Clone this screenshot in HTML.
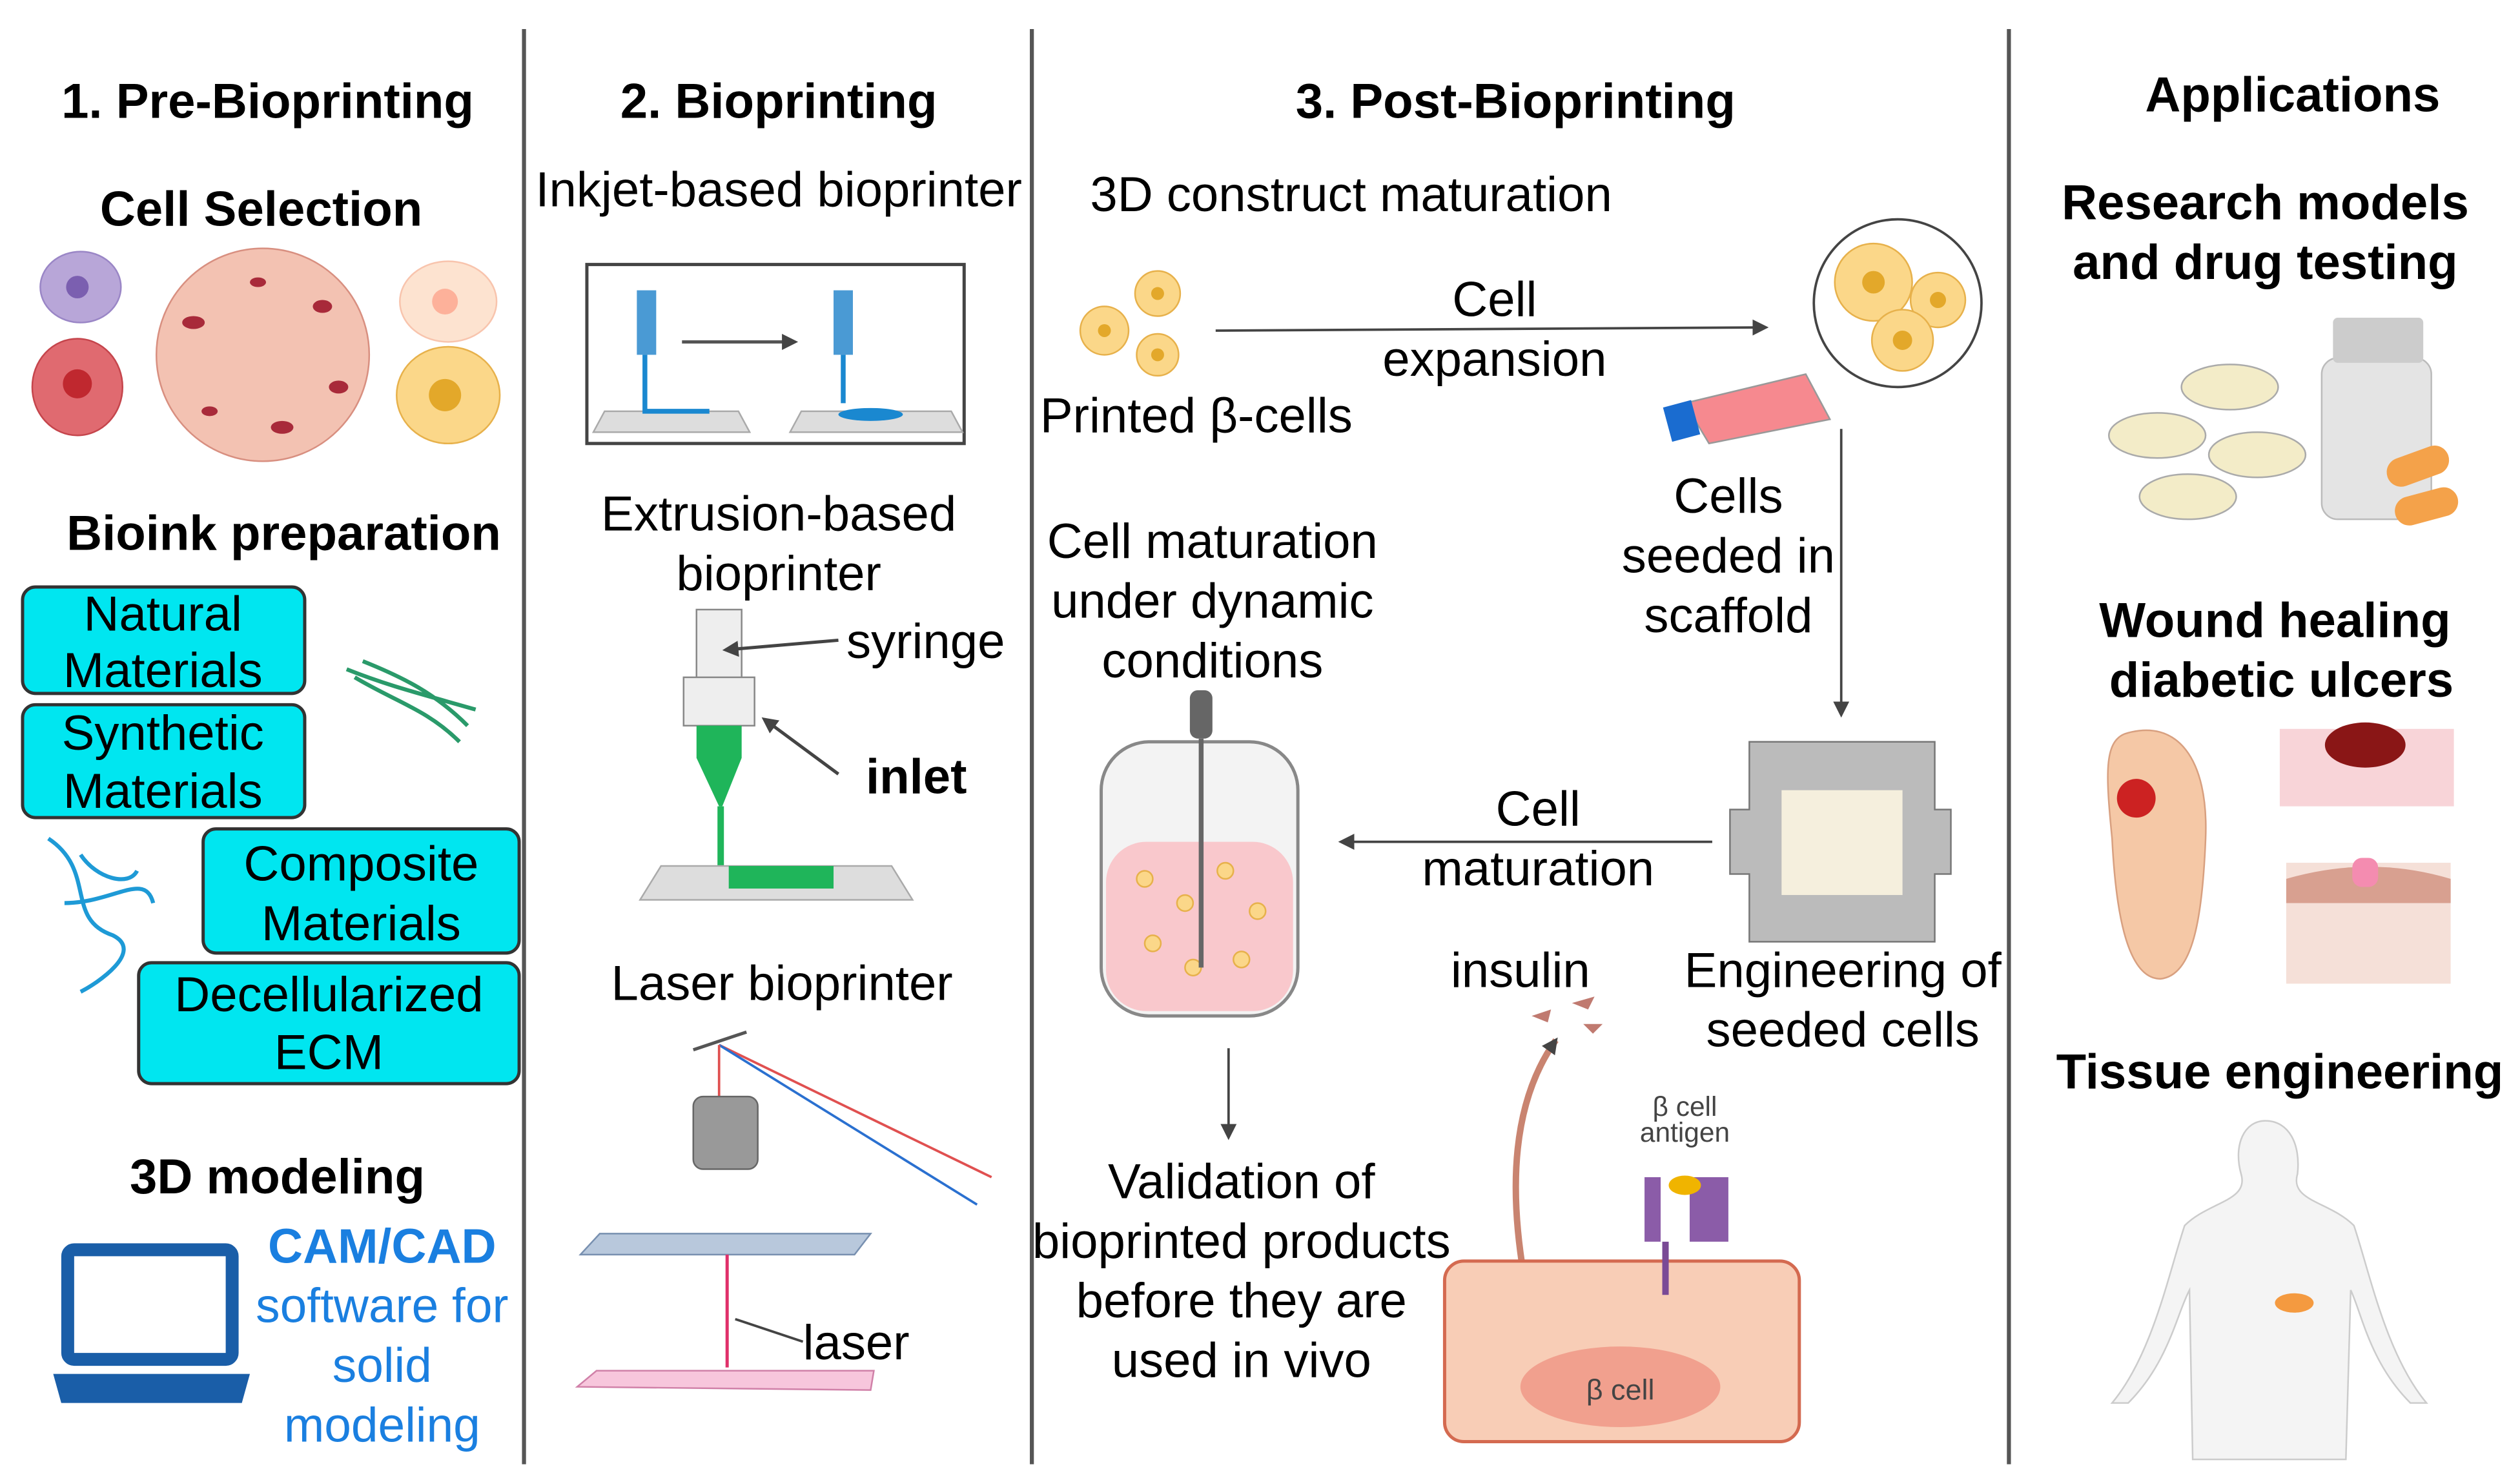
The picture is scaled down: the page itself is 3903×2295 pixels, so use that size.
<!DOCTYPE html>
<html><head><meta charset="utf-8"><style>
html,body{margin:0;padding:0;background:#fff;}
svg{display:block;}
text{font-family:"Liberation Sans",Arial,sans-serif;fill:#000;}
.t{font-weight:bold;font-size:30.5px;}
.n{font-size:30.5px;}
</style></head><body>
<svg width="3903" height="2295" viewBox="0 0 1563 919" xmlns="http://www.w3.org/2000/svg">
<defs><marker id="ar" markerWidth="10" markerHeight="10" refX="8" refY="5" orient="auto" markerUnits="userSpaceOnUse"><path d="M0,0 L10,5 L0,10z" fill="#444"/></marker></defs>
<g stroke="#555" stroke-width="2.5"><line x1="325" y1="18" x2="325" y2="908"/><line x1="640" y1="18" x2="640" y2="908"/><line x1="1246" y1="18" x2="1246" y2="908"/></g>
<!-- Column 1 -->
<text class="t" x="166" y="73" text-anchor="middle">1. Pre-Bioprinting</text>
<text class="t" x="162" y="140" text-anchor="middle">Cell Selection</text>
<ellipse cx="50" cy="178" rx="25" ry="22" fill="#b8a6d8" stroke="#9a86c6"/><circle cx="48" cy="178" r="7" fill="#7b5fb0"/>
<ellipse cx="48" cy="240" rx="28" ry="30" fill="#e06a70" stroke="#c5454c"/><circle cx="48" cy="238" r="9" fill="#c0282f"/>
<circle cx="163" cy="220" r="66" fill="#f3c2b2" stroke="#d88f80"/>
<g fill="#a82a3a"><ellipse cx="120" cy="200" rx="7" ry="4"/><ellipse cx="200" cy="190" rx="6" ry="4"/><ellipse cx="175" cy="265" rx="7" ry="4"/><ellipse cx="130" cy="255" rx="5" ry="3"/><ellipse cx="210" cy="240" rx="6" ry="4"/><ellipse cx="160" cy="175" rx="5" ry="3"/></g>
<ellipse cx="278" cy="187" rx="30" ry="25" fill="#fde3d0" stroke="#f8c4ad"/><circle cx="276" cy="187" r="8" fill="#fdb19a"/>
<ellipse cx="278" cy="245" rx="32" ry="30" fill="#fbd789" stroke="#e7b14b"/><circle cx="276" cy="245" r="10" fill="#e3a82a"/>
<text class="t" x="176" y="341" text-anchor="middle">Bioink preparation</text>
<g fill="#00e6f0" stroke="#333" stroke-width="2">
<rect x="14" y="364" width="175" height="66" rx="8"/>
<rect x="14" y="437" width="175" height="70" rx="8"/>
<rect x="126" y="514" width="196" height="77" rx="8"/>
<rect x="86" y="597" width="236" height="75" rx="8"/>
</g>
<text class="n" x="101" y="391" text-anchor="middle">Natural</text><text class="n" x="101" y="426" text-anchor="middle">Materials</text>
<text class="n" x="101" y="465" text-anchor="middle">Synthetic</text><text class="n" x="101" y="501" text-anchor="middle">Materials</text>
<text class="n" x="224" y="546" text-anchor="middle">Composite</text><text class="n" x="224" y="583" text-anchor="middle">Materials</text>
<text class="n" x="204" y="627" text-anchor="middle">Decellularized</text><text class="n" x="204" y="663" text-anchor="middle">ECM</text>
<path d="M215,415 C240,425 260,430 295,440 M220,420 C245,435 265,440 285,460 M225,410 C250,420 270,430 290,450" stroke="#2a9a6a" stroke-width="2.5" fill="none"/>
<path d="M30,520 C60,540 40,570 70,580 C90,590 60,610 50,615 M40,560 C70,560 90,540 95,560 M50,530 C60,545 80,550 85,540" stroke="#1e9ad6" stroke-width="2.5" fill="none"/>
<text class="t" x="172" y="740" text-anchor="middle">3D modeling</text>
<rect x="42" y="775" width="102" height="68" rx="4" fill="none" stroke="#1a5ea8" stroke-width="8"/>
<path d="M33,852 L155,852 L150,870 L38,870z" fill="#1a5ea8"/>
<text x="237" y="783" text-anchor="middle" font-size="30" font-weight="bold" style="fill:#1a7fe0">CAM/CAD</text>
<text x="237" y="820" text-anchor="middle" font-size="30" style="fill:#1a7fe0">software for</text>
<text x="237" y="857" text-anchor="middle" font-size="30" style="fill:#1a7fe0">solid</text>
<text x="237" y="894" text-anchor="middle" font-size="30" style="fill:#1a7fe0">modeling</text>
<!-- Column 2 -->
<text class="t" x="483" y="73" text-anchor="middle">2. Bioprinting</text>
<text class="n" x="483" y="128" text-anchor="middle">Inkjet-based bioprinter</text>
<rect x="364" y="164" width="234" height="111" fill="#fff" stroke="#444" stroke-width="2"/>
<path d="M368,268 L375,255 L458,255 L465,268z M490,268 L497,255 L590,255 L597,268z" fill="#ddd" stroke="#aaa"/>
<rect x="395" y="180" width="12" height="40" fill="#4a9ad4"/><path d="M400,220 L400,255 L440,255" stroke="#1a88d0" stroke-width="3" fill="none"/>
<rect x="517" y="180" width="12" height="40" fill="#4a9ad4"/><line x1="523" y1="220" x2="523" y2="250" stroke="#1a88d0" stroke-width="3"/><ellipse cx="540" cy="257" rx="20" ry="4" fill="#1a88d0"/>
<line x1="423" y1="212" x2="493" y2="212" stroke="#555" stroke-width="2" marker-end="url(#ar)"/>
<text class="n" x="483" y="329" text-anchor="middle">Extrusion-based</text>
<text class="n" x="483" y="366" text-anchor="middle">bioprinter</text>
<rect x="432" y="378" width="28" height="45" fill="#eee" stroke="#888"/>
<rect x="424" y="420" width="44" height="30" fill="#eee" stroke="#888"/>
<path d="M432,450 L460,450 L460,470 L448,500 L446,500 L432,470z" fill="#1fb55a"/>
<line x1="447" y1="500" x2="447" y2="545" stroke="#1fb55a" stroke-width="4"/>
<path d="M397,558 L410,537 L553,537 L566,558z" fill="#ddd" stroke="#aaa"/>
<rect x="452" y="537" width="65" height="14" fill="#1fb55a"/>
<line x1="520" y1="397" x2="450" y2="403" stroke="#444" stroke-width="2" marker-end="url(#ar)"/>
<line x1="520" y1="480" x2="474" y2="446" stroke="#444" stroke-width="2" marker-end="url(#ar)"/>
<text class="n" x="525" y="408">syringe</text>
<text class="n" x="537" y="492" font-weight="bold">inlet</text>
<text class="n" x="485" y="620" text-anchor="middle">Laser bioprinter</text>
<line x1="430" y1="651" x2="463" y2="640" stroke="#555" stroke-width="2"/>
<line x1="446" y1="648" x2="615" y2="730" stroke="#e05050" stroke-width="1.5"/>
<line x1="446" y1="648" x2="606" y2="747" stroke="#2a70d0" stroke-width="1.5"/>
<line x1="446" y1="648" x2="446" y2="680" stroke="#e05050" stroke-width="1.5"/>
<rect x="430" y="680" width="40" height="45" rx="6" fill="#999" stroke="#666"/>
<path d="M360,778 L372,765 L540,765 L530,778z" fill="#b8c8dc" stroke="#7890b0"/>
<line x1="451" y1="778" x2="451" y2="848" stroke="#e0306a" stroke-width="2"/>
<path d="M358,860 L370,850 L542,850 L540,862z" fill="#f7c6dc" stroke="#d080a8"/>
<line x1="498" y1="832" x2="456" y2="818" stroke="#444" stroke-width="1.5"/>
<text class="n" x="498" y="843">laser</text>
<!-- Column 3 -->
<text class="t" x="940" y="73" text-anchor="middle">3. Post-Bioprinting</text>
<text class="n" x="838" y="131" text-anchor="middle">3D construct maturation</text>
<g fill="#fbd789" stroke="#e7b14b"><circle cx="718" cy="182" r="14"/><circle cx="685" cy="205" r="15"/><circle cx="718" cy="220" r="13"/></g>
<g fill="#e3a82a"><circle cx="718" cy="182" r="4"/><circle cx="685" cy="205" r="4"/><circle cx="718" cy="220" r="4"/></g>
<text class="n" x="742" y="268" text-anchor="middle">Printed β-cells</text>
<line x1="754" y1="205" x2="1095" y2="203" stroke="#444" stroke-width="1.5" marker-end="url(#ar)"/>
<text class="n" x="927" y="196" text-anchor="middle">Cell</text>
<text class="n" x="927" y="233" text-anchor="middle">expansion</text>
<circle cx="1177" cy="188" r="52" fill="#fff" stroke="#444" stroke-width="1.5"/>
<g fill="#fbd789" stroke="#e7b14b"><circle cx="1162" cy="175" r="24"/><circle cx="1202" cy="186" r="17"/><circle cx="1180" cy="211" r="19"/></g>
<g fill="#e3a82a"><circle cx="1162" cy="175" r="7"/><circle cx="1202" cy="186" r="5"/><circle cx="1180" cy="211" r="6"/></g>
<path d="M1045,250 L1120,232 L1135,260 L1060,275z" fill="#f6898f" stroke="#999"/>
<rect x="1034" y="250" width="18" height="22" fill="#1a6cd0" transform="rotate(-15 1043 261)"/>
<line x1="1142" y1="266" x2="1142" y2="443" stroke="#444" stroke-width="1.5" marker-end="url(#ar)"/>
<text class="n" x="1072" y="318" text-anchor="middle">Cells</text>
<text class="n" x="1072" y="355" text-anchor="middle">seeded in</text>
<text class="n" x="1072" y="392" text-anchor="middle">scaffold</text>
<text class="n" x="752" y="346" text-anchor="middle">Cell maturation</text>
<text class="n" x="752" y="383" text-anchor="middle">under dynamic</text>
<text class="n" x="752" y="420" text-anchor="middle">conditions</text>
<rect x="683" y="460" width="122" height="170" rx="30" fill="#f3f3f3" stroke="#888" stroke-width="2"/>
<rect x="686" y="522" width="116" height="105" rx="25" fill="#f9c8cc"/>
<g fill="#fbd789" stroke="#e7b14b"><circle cx="710" cy="545" r="5"/><circle cx="735" cy="560" r="5"/><circle cx="760" cy="540" r="5"/><circle cx="780" cy="565" r="5"/><circle cx="715" cy="585" r="5"/><circle cx="770" cy="595" r="5"/><circle cx="740" cy="600" r="5"/></g>
<rect x="738" y="428" width="14" height="30" rx="5" fill="#666"/><line x1="745" y1="458" x2="745" y2="600" stroke="#666" stroke-width="3"/>
<line x1="1062" y1="522" x2="832" y2="522" stroke="#444" stroke-width="1.5" marker-end="url(#ar)"/>
<text class="n" x="954" y="512" text-anchor="middle">Cell</text>
<text class="n" x="954" y="549" text-anchor="middle">maturation</text>
<path d="M1085,460 h115 v42 h10 v40 h-10 v42 h-115 v-42 h-12 v-40 h12z" fill="#bbb" stroke="#777"/>
<rect x="1105" y="490" width="75" height="65" fill="#f5efdd"/>
<line x1="762" y1="650" x2="762" y2="705" stroke="#444" stroke-width="1.5" marker-end="url(#ar)"/>
<text class="n" x="770" y="743" text-anchor="middle">Validation of</text>
<text class="n" x="770" y="780" text-anchor="middle">bioprinted products</text>
<text class="n" x="770" y="817" text-anchor="middle">before they are</text>
<text class="n" x="770" y="854" text-anchor="middle">used in vivo</text>
<text class="n" x="943" y="612" text-anchor="middle">insulin</text>
<text class="n" x="1143" y="612" text-anchor="middle">Engineering of</text>
<text class="n" x="1143" y="649" text-anchor="middle">seeded cells</text>
<path d="M950,630 l12,-4 l-2,8z M975,622 l14,-4 l-4,8z M982,635 l12,0 l-6,6z" fill="#c07a70"/>
<path d="M945,790 C935,730 940,680 965,645" stroke="#c98470" stroke-width="4" fill="none" marker-end="url(#ar)"/>
<rect x="896" y="782" width="220" height="112" rx="12" fill="#f8cdb6" stroke="#d46a50" stroke-width="2"/>
<ellipse cx="1005" cy="860" rx="62" ry="25" fill="#f1a08e"/>
<text x="1005" y="868" text-anchor="middle" font-size="18" style="fill:#444">β cell</text>
<text x="1045" y="692" text-anchor="middle" font-size="17" style="fill:#444">β cell</text>
<text x="1045" y="708" text-anchor="middle" font-size="17" style="fill:#444">antigen</text>
<rect x="1020" y="730" width="10" height="40" fill="#8b5ca8"/><rect x="1048" y="730" width="24" height="40" fill="#8b5ca8"/>
<line x1="1033" y1="770" x2="1033" y2="803" stroke="#7a4a96" stroke-width="4"/>
<ellipse cx="1045" cy="735" rx="10" ry="6" fill="#f0b400"/>
<!-- Applications -->
<text class="t" x="1422" y="69" text-anchor="middle">Applications</text>
<text class="t" x="1405" y="136" text-anchor="middle">Research models</text>
<text class="t" x="1405" y="173" text-anchor="middle">and drug testing</text>
<g fill="#f3ecc8" stroke="#aaa"><ellipse cx="1383" cy="240" rx="30" ry="14"/><ellipse cx="1338" cy="270" rx="30" ry="14"/><ellipse cx="1400" cy="282" rx="30" ry="14"/><ellipse cx="1357" cy="308" rx="30" ry="14"/></g>
<rect x="1440" y="222" width="68" height="100" rx="10" fill="#e4e4e4" stroke="#bbb"/><rect x="1447" y="197" width="56" height="28" rx="3" fill="#ccc"/>
<rect x="1480" y="280" width="40" height="18" rx="9" fill="#f4a24a" transform="rotate(-20 1500 290)"/>
<rect x="1485" y="305" width="40" height="18" rx="9" fill="#f4a24a" transform="rotate(-15 1505 314)"/>
<text class="t" x="1411" y="395" text-anchor="middle">Wound healing</text>
<text class="t" x="1415" y="432" text-anchor="middle">diabetic ulcers</text>
<path d="M1318,455 C1350,445 1370,470 1368,520 C1366,570 1360,605 1340,607 C1318,607 1312,560 1310,520 C1306,480 1305,460 1318,455z" fill="#f5c8a6" stroke="#d8a080"/>
<circle cx="1325" cy="495" r="12" fill="#c22"/>
<rect x="1414" y="452" width="108" height="48" fill="#f8d4d8"/><ellipse cx="1467" cy="462" rx="25" ry="14" fill="#8a1616"/>
<rect x="1418" y="535" width="102" height="75" fill="#f5e0d8"/><path d="M1418,545 Q1470,530 1520,545 L1520,560 L1418,560z" fill="#d8a090"/><rect x="1459" y="532" width="16" height="18" rx="6" fill="#f48cb0"/>
<text class="t" x="1414" y="675" text-anchor="middle">Tissue engineering</text>
<path d="M1405,695 C1420,695 1427,710 1425,728 C1420,745 1445,745 1460,760 C1470,790 1480,840 1505,870 L1495,870 C1470,845 1465,815 1458,800 L1455,905 L1360,905 L1358,800 C1350,815 1345,845 1320,870 L1310,870 C1335,840 1345,790 1355,760 C1370,745 1395,745 1390,728 C1385,710 1392,695 1405,695z" fill="#f4f4f4" stroke="#ccc"/>
<ellipse cx="1423" cy="808" rx="12" ry="6" fill="#f49a40"/>
</svg>
</body></html>
